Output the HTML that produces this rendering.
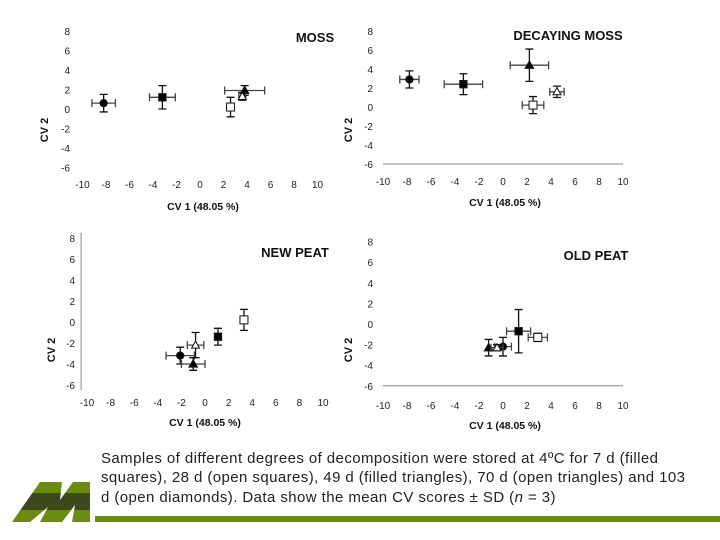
<!DOCTYPE html>
<html><head><meta charset="utf-8"><style>
body{margin:0;background:#fff;width:720px;height:540px;overflow:hidden;font-family:"Liberation Sans",sans-serif}
svg{position:absolute;left:0;top:0}
#cap{position:absolute;left:101px;top:449px;white-space:nowrap;font-size:15px;line-height:19.3px;color:#222;letter-spacing:0.42px}
</style></head><body>
<svg id="chart" width="720" height="540">
<defs><clipPath id="mclip"><polygon points="12,522 40,482 62,482 60,500 73,482 90,482 90,522 72,522 75,505 62,522 40,522 48,507 30,522"/></clipPath></defs>
<g clip-path="url(#mclip)">
<rect x="0" y="480" width="100" height="13" fill="#6b8c12"/>
<rect x="0" y="493" width="100" height="17" fill="#3e4a1e"/>
<rect x="0" y="510" width="100" height="14" fill="#6b8c12"/>
</g>
<rect x="95" y="516" width="625" height="6" fill="#6b8c12"/>
</svg>
<div id="cap">Samples of different degrees of decomposition were stored at 4ºC for 7 d (filled<br>squares), 28 d (open squares), 49 d (filled triangles), 70 d (open triangles) and 103<br>d (open diamonds). Data show the mean CV scores ± SD (<i>n</i> = 3)</div>
<script>
const xTicks=[-10,-8,-6,-4,-2,0,2,4,6,8,10];
const yTicks=[8,6,4,2,0,-2,-4,-6];
const panelTitles=["MOSS","DECAYING MOSS","NEW PEAT","OLD PEAT"];
const seriesKinds=["diamond","square","triangle","otriangle","osquare"];
// per panel: [x, y, xerr, yerr]
const mossPts=[[-8.2,0.6,1,0.9],[-3.2,1.2,1.1,1.2],[3.8,1.9,1.7,0.5],[3.6,1.3,0.3,0.4],[2.6,0.2,0.3,1.0]];
const decayPts=[[-7.8,2.9,0.8,0.9],[-3.3,2.4,1.6,1.1],[2.2,4.4,1.6,1.7],[4.5,1.6,0.6,0.6],[2.5,0.2,0.9,0.9]];
const newPeatPts=[[-2.1,-3.2,1.2,0.8],[1.1,-1.4,0,0.8],[-1.0,-4.0,1.0,0.6],[-0.8,-2.2,0.7,1.2],[3.3,0.2,0.2,1.0]];
const oldPeatPts=[[0,-2.2,0.7,0.9],[1.3,-0.7,1.0,2.1],[-1.2,-2.3,0,0.8],[-0.5,-2.3,0.5,0.3],[2.9,-1.3,0.8,0.4]];
const allPts=[mossPts,decayPts,newPeatPts,oldPeatPts];
const geo=[
 {x0:200,xs:11.75,y0:109,ys:9.75,ylx:70,xly:188,tx:315,ty:42,cx:203,cy:210,vx:48,vy:130,xaxis:false,yaxis:false},
 {x0:503,xs:12,x1:625,y0:107,ys:9.5,ylx:373,xly:185,tx:568,ty:40,cx:505,cy:206,vx:352,vy:130,xaxis:true,yaxis:false},
 {x0:205,xs:11.8,y0:322,ys:10.5,ylx:75,xly:406,tx:295,ty:257,cx:205,cy:426,vx:55,vy:350,xaxis:false,yaxis:true},
 {x0:503,xs:12,y0:324,ys:10.3,ylx:373,xly:409,tx:596,ty:260,cx:505,cy:429,vx:352,vy:350,xaxis:true,yaxis:false}];
const svg=document.getElementById('chart');
const NS='http://www.w3.org/2000/svg';
function mk(t,a,p){const e=document.createElementNS(NS,t);for(const k in a)e.setAttribute(k,a[k]);(p||svg).appendChild(e);return e;}
geo.forEach((g,pi)=>{
 const grp=mk('g',{});
 
 
 const X=v=>g.x0+v*g.xs, Y=v=>g.y0-v*g.ys;
 xTicks.forEach(t=>{const e=mk('text',{x:X(t),y:g.xly,'font-size':10,'text-anchor':'middle',fill:'#222'},grp);e.textContent=t;
  
  });
 yTicks.forEach(t=>{const e=mk('text',{x:g.ylx,y:Y(t)+4,'font-size':10,'text-anchor':'end',fill:'#222'},grp);e.textContent=t;
  
  });
 if(g.xaxis){const l=mk('line',{x1:X(-10),x2:X(10),y1:Y(-6),y2:Y(-6),stroke:'#888','stroke-width':1},grp);
  
  }
 if(g.yaxis){const l=mk('line',{x1:X(-10.5),x2:X(-10.5),y1:Y(8.5),y2:Y(-6.5),stroke:'#888','stroke-width':1},grp);
  
  }
 const tt=mk('text',{x:g.tx,y:g.ty,'font-size':13,'font-weight':'bold','text-anchor':'middle',fill:'#111'},grp);tt.textContent=panelTitles[pi];
 
 
 const ct=mk('text',{x:g.cx,y:g.cy,'font-size':10.5,'font-weight':'bold','text-anchor':'middle',fill:'#111'},grp);ct.textContent='CV 1 (48.05 %)';
 
 
 const vt=mk('text',{x:g.vx,y:g.vy,'font-size':11,'font-weight':'bold','text-anchor':'middle',fill:'#111',transform:`rotate(-90 ${g.vx} ${g.vy})`},grp);vt.textContent='CV 2';
 
 
 allPts[pi].forEach((p,si)=>{
  const kind=seriesKinds[si];const cx=X(p[0]),cy=Y(p[1]);
  const s=mk('g',{stroke:'#111','stroke-width':1.3},grp);
  
  
  if(p[2]>0){const a=X(p[0]-p[2]),b=X(p[0]+p[2]);mk('path',{d:`M${a},${cy}H${b}M${a},${cy-4}V${cy+4}M${b},${cy-4}V${cy+4}`,fill:'none',stroke:'#444'},s);}
  if(p[3]>0){const a=Y(p[1]+p[3]),b=Y(p[1]-p[3]);mk('path',{d:`M${cx},${a}V${b}M${cx-4},${a}H${cx+4}M${cx-4},${b}H${cx+4}`,fill:'none'},s);}
  if(kind==='diamond')mk('circle',{cx,cy,r:3.5,fill:'#000'},s);
  if(kind==='square')mk('rect',{x:cx-3.5,y:cy-3.5,width:7,height:7,fill:'#000'},s);
  if(kind==='osquare')mk('rect',{x:cx-4,y:cy-4,width:8,height:8,fill:'#fff','stroke-width':1},s);
  if(kind==='triangle')mk('polygon',{points:`${cx},${cy-4} ${cx-4},${cy+3} ${cx+4},${cy+3}`,fill:'#000'},s);
  if(kind==='otriangle')mk('polygon',{points:`${cx},${cy-4} ${cx-4},${cy+3} ${cx+4},${cy+3}`,fill:'#fff','stroke-width':1},s);
 });
});
</script>
</body></html>
